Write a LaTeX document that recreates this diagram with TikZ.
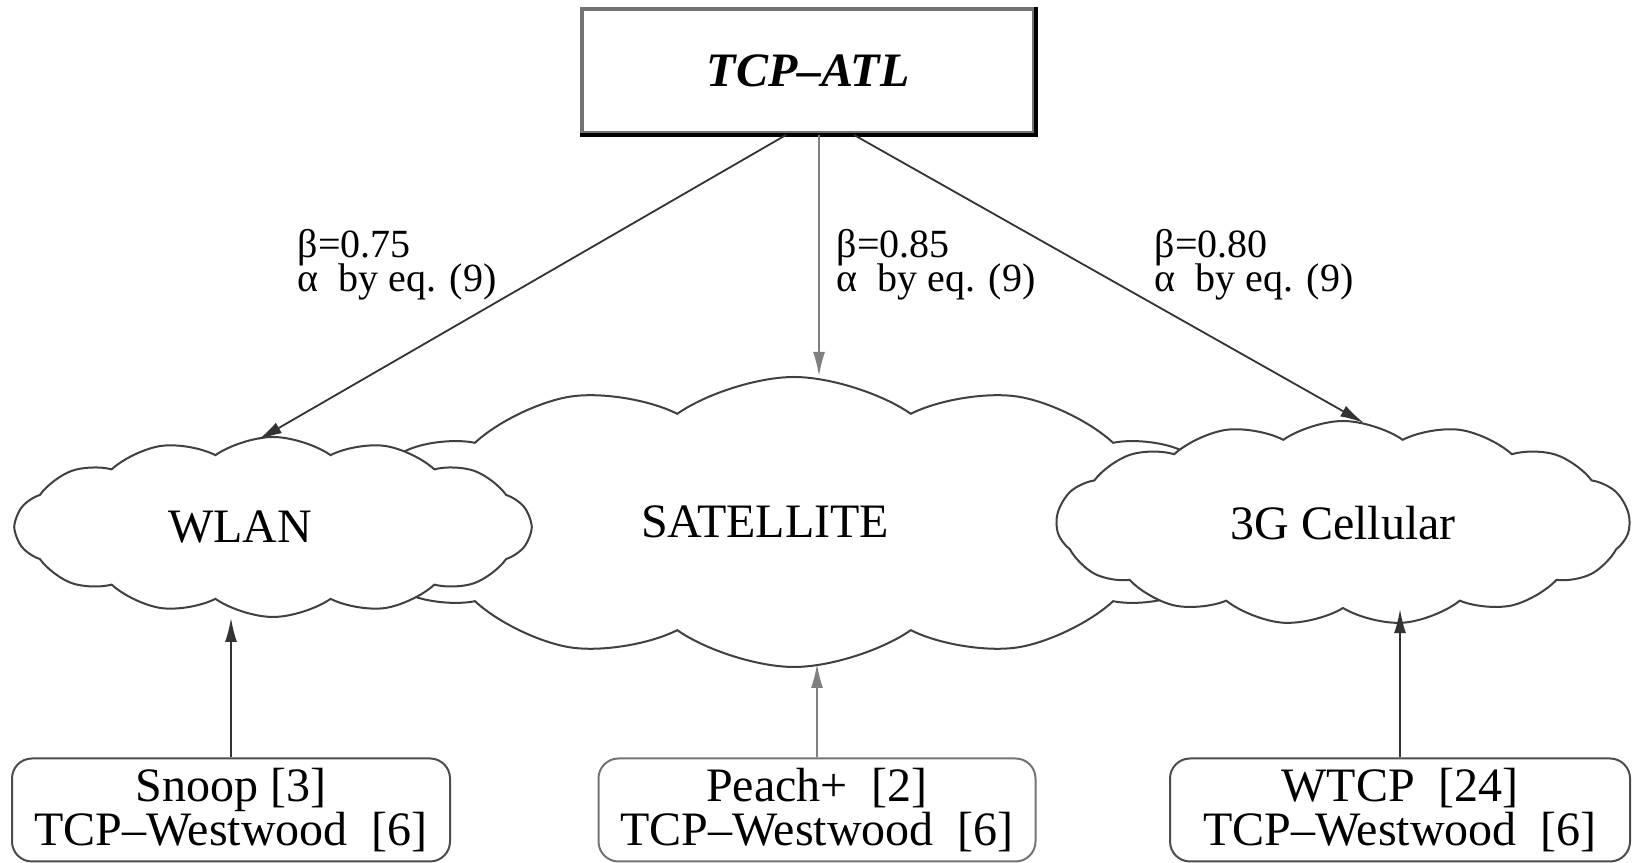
\documentclass[tikz,border=0pt]{standalone}
\usepackage{fontspec}
\setmainfont{Liberation Serif}
\usetikzlibrary{shapes.symbols,calc,arrows.meta}

\tikzset{
  netcloud/.style={cloud, draw=black!75, fill=white, line width=0.5pt,
    cloud ignores aspect, cloud puff arc=70, inner sep=0pt,
    font=\fontsize{12}{12}\selectfont},
  protobox/.style={draw=black!70, rounded corners=5pt, line width=0.5pt,
    minimum height=25.75pt, inner sep=0pt, align=center,
    font=\fontsize{12}{11}\selectfont},
  betalabel/.style={anchor=north west, inner sep=0pt, align=left,
    font={\fontsize{10}{8.5}\selectfont\lineskiplimit-5pt\relax}},
  arr/.style={-{Latex[length=6pt,width=3pt]}, line width=0.45pt, black!80}
}

\begin{document}
\begin{tikzpicture}[x=0.25pt,y=0.25pt]
  \useasboundingbox (0,0) rectangle (1633,863);

  % Top box
  \node[draw=black!55, line width=1pt, minimum width=113pt, minimum height=31pt,
    font=\fontsize{12}{12}\selectfont\bfseries\itshape] (atl) at (808,792) {TCP--ATL};
  \draw[black, line width=1pt] (atl.north east) -- (atl.south east) -- (atl.south west);

  % Networks
  \node[netcloud, cloud puffs=12, minimum width=222.5pt, minimum height=72.5pt]
    (sat) at (794,341) {SATELLITE\hspace*{14.5pt}};
  \node[netcloud, cloud puffs=14, minimum width=128.75pt, minimum height=45pt]
    (wlan) at (273,336) {WLAN\hspace*{16.5pt}};
  \node[netcloud, cloud puffs=15, minimum width=143.25pt, minimum height=51pt]
    (cell) at (1343,340) {3G Cellular};
  \coordinate (satfoot) at ($(sat.center)+(0,-142)$);

  % Parameters
  \node[betalabel] (bwlan) at (297,634) {β=0.75\\α\ \ by eq. (9)};
  \node[betalabel] (bsat) at (836,634) {β=0.85\\α\ \ by eq. (9)};
  \node[betalabel] (bcell) at (1154,634) {β=0.80\\α\ \ by eq. (9)};

  % Protocols
  \node[protobox, minimum width=109.5pt] (snoop) at (231,53) {Snoop [3]\\TCP--Westwood\ \ [6]};
  \node[protobox, minimum width=109.25pt, draw=black!55] (peach) at (817,53) {Peach+\ \ [2]\\TCP--Westwood\ \ [6]};
  \node[protobox, minimum width=115pt] (wtcp) at (1400,53) {WTCP\ \ [24]\\TCP--Westwood\ \ [6]};

  % Arrows
  \draw[arr] ($(atl.south)+(-22,0)$) -- ($(wlan.north)+(-15,-4)$);
  \draw[arr, gray] ($(atl.south)+(11,0)$) -- ($(sat.north)+(25,0)$);
  \draw[arr] ($(atl.south)+(46,0)$) -- ($(cell.north)+(21,-3)$);

  \draw[arr] (snoop.north) -- (snoop.north |- wlan.270);
  \draw[arr, gray] (peach.north) -- (peach.north |- satfoot);
  \draw[arr] (wtcp.north) -- (wtcp.north |- cell.270);
\end{tikzpicture}
\end{document}
